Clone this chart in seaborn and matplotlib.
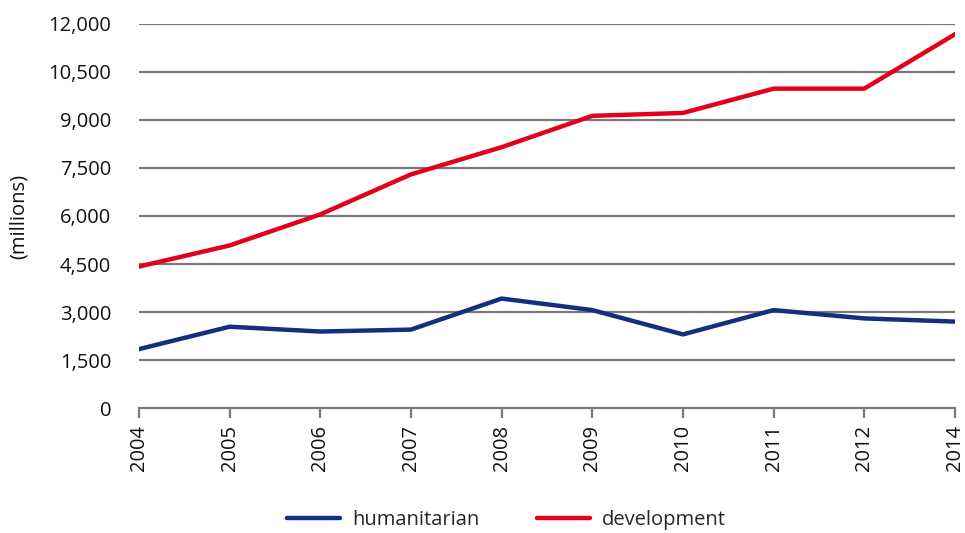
import matplotlib
matplotlib.use("Agg")
import matplotlib.pyplot as plt
import seaborn as sns
import pandas as pd

years = ["2004", "2005", "2006", "2007", "2008", "2009", "2010", "2011", "2012", "2014"]
humanitarian = [1840, 2540, 2390, 2450, 3420, 3060, 2300, 3060, 2800, 2700]
development = [4420, 5080, 6050, 7300, 8150, 9130, 9220, 9980, 9980, 11680]
yticks = [0, 1500, 3000, 4500, 6000, 7500, 9000, 10500, 12000]

sns.set_theme(style="white")
plt.rcParams["font.family"] = ["Open Sans", "DejaVu Sans"]

df = pd.DataFrame({
    "pos": list(range(len(years))) * 2,
    "value": humanitarian + development,
    "series": ["humanitarian"] * len(years) + ["development"] * len(years),
})

FS = 14.5
fig = plt.figure(figsize=(9.65, 5.33), dpi=100)
ax = fig.add_axes([0.144, 0.2345, 0.8456, 0.7205])

for y in yticks[1:]:
    ax.axhline(y, color="#7a7a7a", lw=1.6, zorder=0)

sns.lineplot(data=df, x="pos", y="value", hue="series",
             palette={"humanitarian": "#12307f", "development": "#e2001a"},
             linewidth=3.2, ax=ax, legend=False, zorder=3)

ax.set_xlim(0, len(years) - 1)
ax.set_ylim(0, 12000)
ax.set_yticks(yticks)
ax.set_yticklabels([f"{v:,}" for v in yticks], fontsize=FS, color="#111111")
ax.set_xticks(range(len(years)))
ax.set_xticklabels(years, rotation=90, fontsize=FS, color="#111111")
ax.tick_params(axis="y", length=0, pad=20)
ax.tick_params(axis="x", length=7, width=1.6, color="#7a7a7a", pad=5, direction="out", bottom=True)
for s in ["top", "right", "left"]:
    ax.spines[s].set_visible(False)
ax.spines["bottom"].set_color("#7a7a7a")
ax.spines["bottom"].set_linewidth(1.6)
ax.set_xlabel("")
ax.set_ylabel("(millions)", fontsize=FS, color="#111111", labelpad=14)

from matplotlib.lines import Line2D
handles = [Line2D([0], [0], color="#12307f", lw=3.2),
           Line2D([0], [0], color="#e2001a", lw=3.2)]
fig.legend(handles, ["humanitarian", "development"], loc="lower center",
           bbox_to_anchor=(0.525, -0.028), ncol=2, frameon=False, fontsize=FS,
           handlelength=2.6, columnspacing=2.9, handletextpad=0.6)

fig.savefig("out.png", dpi=100)
